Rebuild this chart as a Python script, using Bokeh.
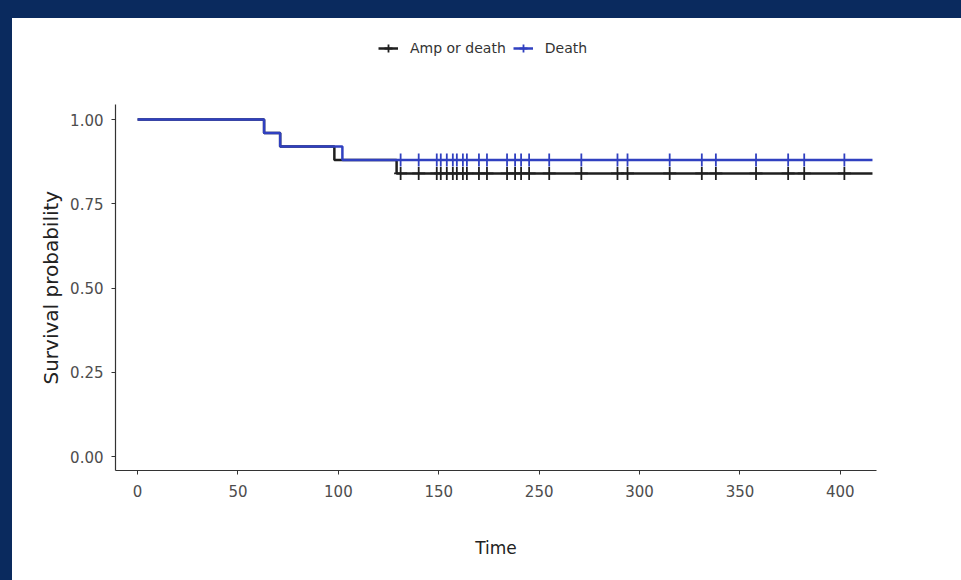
from bokeh.plotting import figure
from bokeh.models import Legend, LegendItem, FixedTicker, Range1d, Title
from bokeh.embed import file_html
from bokeh.resources import INLINE

# Kaplan-Meier step data
amp_times = [0, 63, 71, 98, 129, 366]
amp_surv = [1.00, 0.96, 0.92, 0.88, 0.84, 0.84]
death_times = [0, 63, 71, 102, 366]
death_surv = [1.00, 0.96, 0.92, 0.88, 0.88]

# censoring times
censor_times = [131, 140, 149, 151, 154, 157, 159, 162, 164, 170, 174, 184, 188,
                191, 195, 205, 221, 239, 244, 265, 281, 288, 308, 324, 332, 352]
amp_censor_surv = [0.84] * len(censor_times)
death_censor_surv = [0.88] * len(censor_times)

x_ticks = [0, 50, 100, 150, 200, 250, 300, 350]
x_tick_labels = ["0", "50", "100", "150", "250", "300", "350", "400"]
y_ticks = [0.0, 0.25, 0.5, 0.75, 1.0]
y_tick_labels = ["0.00", "0.25", "0.50", "0.75", "1.00"]

BLACK = "#1f1f1f"
BLUE = "#3040c0"
NAVY = "#0a2a5e"
FONT = "DejaVu Sans"

# frame extends upward to hold the legend; the y axis line is bounded to the data panel
p = figure(width=961, height=580, output_backend="svg", toolbar_location=None,
           x_range=Range1d(-11, 368), y_range=Range1d(-0.0415, 1.279),
           min_border_left=115, min_border_right=85, min_border_top=25,
           min_border_bottom=110)
p.styles = {"background": f"linear-gradient(to bottom, {NAVY} 18px, transparent 18px), "
                          f"linear-gradient(to right, {NAVY} 12px, #ffffff 12px)"}
p.background_fill_color = "white"
p.border_fill_color = None
p.outline_line_color = None
p.xgrid.visible = False
p.ygrid.visible = False

l1 = p.step(amp_times, amp_surv, mode="after", line_color=BLACK, line_width=2.5)
l2 = p.step(death_times, death_surv, mode="after", line_color=BLUE, line_width=2.5)
s1 = p.scatter(censor_times, amp_censor_surv, marker="cross", size=13,
               line_color=BLACK, line_width=1.8)
s2 = p.scatter(censor_times, death_censor_surv, marker="cross", size=13,
               line_color=BLUE, line_width=1.8)

for ax in (p.xaxis[0], p.yaxis[0]):
    ax.axis_line_color = "#333333"
    ax.axis_line_width = 1.2
    ax.major_tick_line_color = "#333333"
    ax.major_tick_in = 0
    ax.major_tick_out = 4
    ax.minor_tick_line_color = None
    ax.major_label_text_font = FONT
    ax.major_label_text_font_size = "15px"
    ax.major_label_text_color = "#4d4d4d"
    ax.axis_label_text_font = FONT
    ax.axis_label_text_font_style = "normal"
    ax.axis_label_text_color = "#222222"
    ax.major_label_standoff = 8

p.yaxis.bounds = (-0.0415, 1.045)
p.xaxis.ticker = FixedTicker(ticks=x_ticks)
p.xaxis.major_label_overrides = {t: l for t, l in zip(x_ticks, x_tick_labels)}
p.xaxis.major_label_standoff = 10
p.yaxis.ticker = FixedTicker(ticks=y_ticks)
p.yaxis.major_label_overrides = {t: l for t, l in zip(y_ticks, y_tick_labels)}
p.xaxis.axis_label = "Time"
p.xaxis.axis_label_text_font_size = "17px"
p.xaxis.axis_label_standoff = 38

# y axis title placed as a left-side title so it centres on the data panel
ytitle = Title(text="Survival probability", align="left", offset=86, standoff=10,
               text_font=FONT, text_font_size="20px", text_font_style="normal",
               text_color="#222222")
p.add_layout(ytitle, "left")

legend = Legend(items=[LegendItem(label="Amp or death", renderers=[l1, s1]),
                       LegendItem(label="Death", renderers=[l2, s2])],
                orientation="horizontal", location=(263, 412))
legend.label_text_font = FONT
legend.label_text_font_size = "14px"
legend.label_text_color = "#333333"
legend.border_line_color = None
legend.background_fill_alpha = 0
legend.glyph_width = 20
legend.label_standoff = 12
legend.spacing = 7
legend.padding = 5
legend.margin = 0
p.add_layout(legend, "center")

open("out.html", "w").write(file_html(p, INLINE))
